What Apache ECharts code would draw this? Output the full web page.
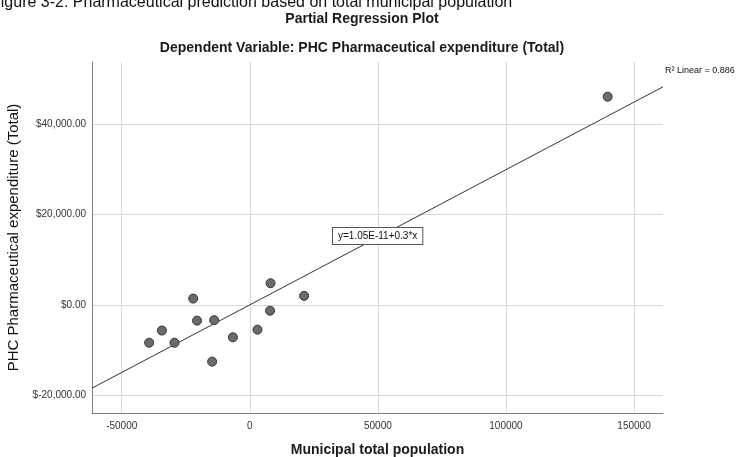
<!DOCTYPE html>
<html><head><meta charset="utf-8">
<script src="https://cdn.jsdelivr.net/npm/echarts@6/dist/echarts.min.js"></script>
<style>html,body{margin:0;padding:0;background:#fff}#c{width:739px;height:457px}</style>
</head><body><div id="c"></div>
<script>
// Partial regression residuals
const populationResid = [-39300, -34300, -29400, -22100, -20600, -13900, -14700, -6600, 3000, 8100, 7900, 21200, 139700];
const expenditureResid = [-8400, -5700, -8400, 1400, -3500, -3400, -12600, -7200, -5500, 4800, -1300, 2000, 46200];
const xTicks = [-50000, 0, 50000, 100000, 150000];
const yTicks = [-20000, 0, 20000, 40000];
const xRange = [-61600, 161300];
const yRange = [-24000, 53900];
const fitIntercept = [1.05e-11];
const fitSlope = [0.3];
const rSquared = [0.886];

const points = populationResid.map((x, i) => [x, expenditureResid[i]]);
const fitLine = xRange.map(x => [x, fitIntercept[0] + fitSlope[0] * x]);
const eqText = 'y=' + fitIntercept[0].toExponential(2).toUpperCase() + '+' + fitSlope[0] + '*x';
const font = 'Liberation Sans, Arial, sans-serif';

const chart = echarts.init(document.getElementById('c'), null, {renderer: 'canvas'});
chart.setOption({
  backgroundColor: '#fff',
  animation: false,
  textStyle: {fontFamily: font},
  grid: {left: 92, right: 76, top: 62, bottom: 44, containLabel: false, outerBoundsMode: 'none'},
  xAxis: {
    type: 'value', min: xRange[0], max: xRange[1],
    name: 'Municipal total population', nameLocation: 'middle', nameGap: 30,
    nameTextStyle: {fontSize: 14, fontWeight: 'bold', color: '#1a1a1a', fontFamily: font},
    axisLine: {show: true, onZero: false, lineStyle: {color: '#808080', width: 1}},
    axisTick: {show: false, customValues: xTicks},
    axisLabel: {customValues: xTicks, fontSize: 10, color: '#333', margin: 8, fontFamily: font,
      formatter: v => String(v)},
    splitLine: {show: true, lineStyle: {color: '#d9d9d9', width: 1}}
  },
  yAxis: {
    type: 'value', min: yRange[0], max: yRange[1],
    name: 'PHC Pharmaceutical expenditure (Total)', nameLocation: 'middle', nameGap: 58,
    nameTextStyle: {fontSize: 15, color: '#111', fontFamily: font},
    axisLine: {show: true, onZero: false, lineStyle: {color: '#808080', width: 1}},
    axisTick: {show: false, customValues: yTicks},
    axisLabel: {customValues: yTicks, fontSize: 10, color: '#333', margin: 6, fontFamily: font,
      formatter: v => '$' + v.toLocaleString('en-US', {minimumFractionDigits: 2, maximumFractionDigits: 2})},
    splitLine: {show: true, lineStyle: {color: '#d9d9d9', width: 1}}
  },
  series: [
    {
      type: 'line', data: fitLine, showSymbol: false, silent: true, z: 2,
      lineStyle: {color: '#333', width: 1}
    },
    {
      type: 'scatter', data: points, symbol: 'circle', symbolSize: 9, z: 3,
      itemStyle: {color: '#6b6b6b', borderColor: '#333', borderWidth: 1, opacity: 1}
    }
  ],
  graphic: [
    {type: 'text', x: -9, y: 11, z: 100, style: {text: 'Figure 3-2: Pharmaceutical prediction based on total municipal population',
      font: '16px ' + font, fill: '#111', verticalAlign: 'bottom', align: 'left'}},
    {type: 'text', x: 362, y: 19, z: 100, style: {text: 'Partial Regression Plot',
      font: 'bold 14px ' + font, fill: '#1a1a1a', align: 'center', verticalAlign: 'middle'}},
    {type: 'text', x: 362, y: 48, z: 100, style: {text: 'Dependent Variable: PHC Pharmaceutical expenditure (Total)',
      font: 'bold 14px ' + font, fill: '#1a1a1a', align: 'center', verticalAlign: 'middle'}},
    {type: 'text', x: 665, y: 71, z: 100, style: {text: 'R\u00B2 Linear = ' + rSquared[0],
      font: '9px ' + font, fill: '#111', align: 'left', verticalAlign: 'middle'}},
    {type: 'text', x: 333, y: 228, z: 100, style: {text: eqText,
      font: '10px ' + font, fill: '#111', align: 'left', verticalAlign: 'top',
      backgroundColor: '#fff', borderColor: '#555', borderWidth: 1, padding: [3, 5, 3, 5]}}
  ]
});
</script></body></html>
